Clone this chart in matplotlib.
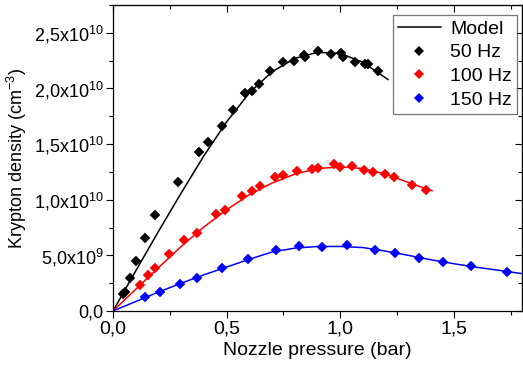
import matplotlib
matplotlib.use("Agg")
import matplotlib.pyplot as plt
from matplotlib.ticker import MultipleLocator, FuncFormatter
from matplotlib.lines import Line2D

plt.rcParams['font.family'] = ['Liberation Sans', 'DejaVu Sans']
plt.rcParams['mathtext.fontset'] = 'custom'
plt.rcParams['mathtext.rm'] = 'Liberation Sans'
plt.rcParams['mathtext.it'] = 'Liberation Sans:italic'
plt.rcParams['mathtext.default'] = 'regular'

# Measured krypton densities (units of 1e9 cm^-3) versus nozzle pressure (bar)
p_50 = [0.044, 0.051, 0.075, 0.102, 0.142, 0.187, 0.286, 0.379, 0.417, 0.478,
        0.530, 0.582, 0.611, 0.643, 0.692, 0.748, 0.796, 0.839, 0.846, 0.904,
        0.958, 1.004, 1.014, 1.067, 1.111, 1.123, 1.168]
n_50 = [1.53, 1.74, 3.0, 4.5, 6.55, 8.62, 11.6, 14.3, 15.2, 16.65,
        18.05, 19.6, 19.8, 20.4, 21.6, 22.4, 22.5, 23.0, 22.8, 23.4,
        23.1, 23.2, 22.8, 22.4, 22.2, 22.2, 21.6]

p_100 = [0.117, 0.154, 0.186, 0.246, 0.311, 0.371, 0.454, 0.493, 0.566, 0.613,
         0.648, 0.714, 0.749, 0.808, 0.876, 0.901, 0.973, 1.000, 1.052, 1.104,
         1.143, 1.197, 1.236, 1.314, 1.376]
n_100 = [2.34, 3.27, 3.85, 5.11, 6.40, 7.05, 8.76, 9.05, 10.36, 10.75,
         11.26, 12.07, 12.23, 12.59, 12.74, 12.84, 13.2, 12.97, 13.06, 12.66,
         12.51, 12.29, 12.0, 11.35, 10.88]

p_150 = [0.141, 0.205, 0.295, 0.369, 0.479, 0.593, 0.718, 0.820, 0.920, 1.030,
         1.155, 1.243, 1.346, 1.453, 1.577, 1.734]
n_150 = [1.26, 1.68, 2.43, 2.95, 3.89, 4.68, 5.50, 5.81, 5.79, 5.89,
         5.50, 5.18, 4.77, 4.36, 4.03, 3.54]

# Model curves (units of 1e9 cm^-3)
pm_50 = [0.0, 0.1, 0.2, 0.3, 0.4, 0.5, 0.6, 0.7, 0.8, 0.9, 1.0, 1.1, 1.21]
nm_50 = [0.0, 3.6, 7.15, 10.6, 13.95, 17.0, 19.6, 21.5, 22.7, 23.25, 23.15, 22.35, 20.8]

pm_100 = [0.0, 0.1, 0.2, 0.3, 0.4, 0.5, 0.6, 0.7, 0.8, 0.9, 1.0, 1.1, 1.2, 1.3, 1.404]
nm_100 = [0.0, 1.95, 3.9, 5.8, 7.55, 9.1, 10.45, 11.5, 12.3, 12.8, 12.95, 12.8, 12.3, 11.55, 10.8]

pm_150 = [0.0, 0.1, 0.2, 0.3, 0.4, 0.5, 0.6, 0.7, 0.8, 0.9, 1.0, 1.1, 1.2, 1.3,
          1.4, 1.5, 1.6, 1.7, 1.8]
nm_150 = [0.0, 0.85, 1.7, 2.5, 3.25, 3.95, 4.65, 5.3, 5.65, 5.8, 5.8, 5.7, 5.38, 5.0,
          4.6, 4.25, 3.93, 3.65, 3.36]

series = [
    (p_50, n_50, pm_50, nm_50, 'black', '50 Hz'),
    (p_100, n_100, pm_100, nm_100, '#ff0000', '100 Hz'),
    (p_150, n_150, pm_150, nm_150, '#0000ff', '150 Hz'),
]

fig = plt.figure(figsize=(5.23, 3.67), dpi=100)
ax = fig.add_axes([113 / 523, 56 / 367, 409 / 523, 306 / 367])

scale = 1e9
for p, n, pm, nm, color, label in series:
    ax.plot(pm, [v * scale for v in nm], color=color, lw=1.1, zorder=2)
    ax.plot(p, [v * scale for v in n], linestyle='none', marker='D', ms=5.5,
            color=color, mec=color, mew=0.3, zorder=3)

ax.set_xlim(0, 1.8)
ax.set_ylim(0, 2.75e10)

ax.xaxis.set_major_locator(MultipleLocator(0.5))
ax.xaxis.set_minor_locator(MultipleLocator(0.25))
ax.yaxis.set_major_locator(MultipleLocator(5e9))
ax.yaxis.set_minor_locator(MultipleLocator(2.5e9))


def fmt_x(v, pos):
    return f"{v:.1f}".replace('.', ',')


def fmt_y(v, pos):
    if abs(v) < 1:
        return "0,0"
    exp = 0
    m = v
    while m >= 10:
        m /= 10
        exp += 1
    return f"{m:.1f}".replace('.', ',') + "x10$^{" + str(exp) + "}$"


ax.xaxis.set_major_formatter(FuncFormatter(fmt_x))
ax.yaxis.set_major_formatter(FuncFormatter(fmt_y))

ax.tick_params(which='both', direction='out', width=0.8, colors='black', pad=2)
ax.tick_params(axis='x', labelsize=14)
ax.tick_params(axis='y', labelsize=13)
ax.tick_params(which='major', length=5)
ax.tick_params(which='minor', length=3)

# Inward ticks on the top and right frame
top = ax.secondary_xaxis('top')
top.xaxis.set_major_locator(MultipleLocator(0.5))
top.xaxis.set_minor_locator(MultipleLocator(0.25))
top.tick_params(which='both', direction='in', labeltop=False, width=0.8)
top.tick_params(which='major', length=5)
top.tick_params(which='minor', length=3)
right = ax.secondary_yaxis('right')
right.yaxis.set_major_locator(MultipleLocator(5e9))
right.yaxis.set_minor_locator(MultipleLocator(2.5e9))
right.tick_params(which='both', direction='in', labelright=False, width=0.8)
right.tick_params(which='major', length=5)
right.tick_params(which='minor', length=3)

for sp in ax.spines.values():
    sp.set_linewidth(0.9)

ax.set_xlabel('Nozzle pressure (bar)', fontsize=14, labelpad=3)
ax.set_ylabel('Krypton density (cm$^{-3}$)', fontsize=13)
ax.yaxis.set_label_coords(-0.205, 0.5)

handles = [Line2D([], [], color='black', lw=1.1)]
labels = ['Model']
for p, n, pm, nm, color, label in series:
    handles.append(Line2D([], [], linestyle='none', marker='D', ms=5.5, color=color, mew=0))
    labels.append(label)
leg = ax.legend(handles, labels, loc='upper right', bbox_to_anchor=(0.988, 0.967),
                borderaxespad=0, fontsize=14, frameon=True, fancybox=False,
                edgecolor='#555555', handlelength=2.2, handletextpad=0.5,
                labelspacing=0.32, borderpad=0.25, markerfirst=True)
leg.get_frame().set_linewidth(0.9)
for t in leg.get_texts():
    t.set_ha('right')
leg._legend_box.align = 'right'

fig.savefig('out.png', dpi=100)
